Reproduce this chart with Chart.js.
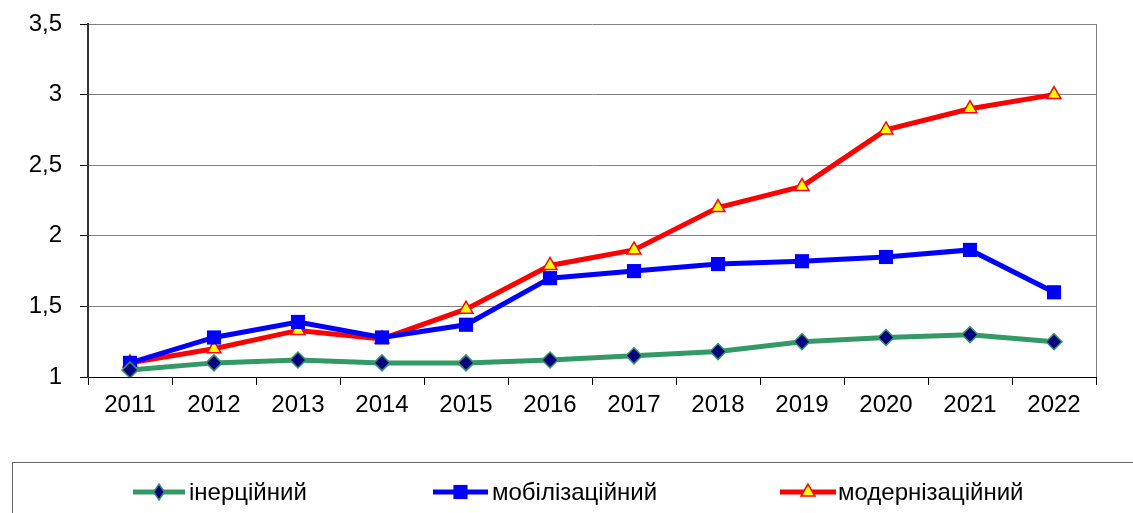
<!DOCTYPE html>
<html>
<head>
<meta charset="utf-8">
<script src="https://cdn.jsdelivr.net/npm/chart.js@4"></script>
<style>
  html, body { margin: 0; padding: 0; background: #fff; }
  #wrap { width: 1133px; height: 513px; position: relative; }
</style>
</head>
<body>
<div id="wrap"><canvas id="myChart" width="1133" height="513"></canvas></div>
<script>
// роки
var years = ['2011', '2012', '2013', '2014', '2015', '2016', '2017', '2018', '2019', '2020', '2021', '2022'];
// сценарії
var inertial = [1.05, 1.10, 1.12, 1.10, 1.10, 1.12, 1.15, 1.18, 1.25, 1.28, 1.30, 1.25];
var mobilization = [1.10, 1.28, 1.39, 1.28, 1.37, 1.70, 1.75, 1.80, 1.82, 1.85, 1.90, 1.60];
var modernization = [1.10, 1.20, 1.33, 1.27, 1.48, 1.79, 1.90, 2.20, 2.35, 2.75, 2.90, 3.00];
var yTicks = [1, 1.5, 2, 2.5, 3, 3.5];

var FONT = { family: 'Arial, "Liberation Sans", sans-serif', size: 24 };

var data = {
  labels: years,
  datasets: [
    {
      label: 'інерційний',
      data: inertial,
      borderColor: '#339966',
      borderWidth: 5,
      pointStyle: 'rectRot',
      pointRadius: 8,
      pointBackgroundColor: '#000080',
      pointBorderColor: '#339966',
      pointBorderWidth: 1.5,
    },
    {
      label: 'мобілізаційний',
      data: mobilization,
      borderColor: '#0000FF',
      borderWidth: 5,
      pointStyle: 'rect',
      pointRadius: 10,
      pointBackgroundColor: '#0000FF',
      pointBorderColor: '#0000FF',
      pointBorderWidth: 0,
    },
    {
      label: 'модернізаційний',
      data: modernization,
      borderColor: '#FF0000',
      borderWidth: 5,
      pointStyle: 'triangle',
      pointRadius: 8,
      pointBackgroundColor: '#FFFF00',
      pointBorderColor: '#FF0000',
      pointBorderWidth: 1.5,
    },
  ],
};

// рамка справа та легенда внизу
var decor = {
  id: 'decor',
  beforeDatasetsDraw: function (chart) {
    var a = chart.chartArea, ctx = chart.ctx;
    ctx.save();
    ctx.strokeStyle = '#808080';
    ctx.lineWidth = 1;
    ctx.beginPath();
    ctx.moveTo(Math.round(a.right) + 0.5, a.top);
    ctx.lineTo(Math.round(a.right) + 0.5, a.bottom);
    ctx.stroke();
    ctx.restore();
  },
  afterDraw: function (chart) {
    var ctx = chart.ctx;
    ctx.save();
    ctx.strokeStyle = '#666';
    ctx.lineWidth = 1;
    ctx.strokeRect(12.5, 462.5, 1140, 60);
    var items = [
      { x: 133, w: 52, tx: 189, pw: 11 },
      { x: 433, w: 55, tx: 492, pw: 0 },
      { x: 780, w: 56, tx: 838, pw: 0 },
    ];
    var y = 492;
    chart.data.datasets.forEach(function (ds, i) {
      var it = items[i];
      ctx.strokeStyle = ds.borderColor;
      ctx.lineWidth = 5;
      ctx.beginPath();
      ctx.moveTo(it.x, y);
      ctx.lineTo(it.x + it.w, y);
      ctx.stroke();
      ctx.fillStyle = ds.pointBackgroundColor;
      ctx.strokeStyle = ds.pointBorderColor;
      ctx.lineWidth = ds.pointBorderWidth;
      Chart.helpers.drawPointLegend(ctx, {
        pointStyle: ds.pointStyle,
        radius: ds.pointRadius,
        borderWidth: ds.pointBorderWidth,
        rotation: 0,
      }, it.x + it.w / 2, y, it.pw || null);
      ctx.fillStyle = '#000';
      ctx.font = FONT.size + 'px ' + FONT.family;
      ctx.textBaseline = 'middle';
      ctx.textAlign = 'left';
      ctx.fillText(ds.label, it.tx, y + 1);
    });
    ctx.restore();
  },
};

var options = {
  responsive: false,
  animation: false,
  layout: { padding: { left: 0, top: 24, right: 37, bottom: 0 } },
  plugins: {
    legend: { display: false },
    tooltip: { enabled: false },
  },
  elements: { line: { tension: 0 } },
  scales: {
    x: {
      offset: true,
      grid: { offset: true, drawOnChartArea: false, tickLength: 8, color: '#000' },
      border: { color: '#000', width: 1 },
      ticks: { color: '#000', font: FONT, padding: 6, maxRotation: 0 },
      afterFit: function (s) { s.height = 136; },
    },
    y: {
      min: 1,
      max: 3.5,
      afterBuildTicks: function (s) { s.ticks = yTicks.map(function (v) { return { value: v }; }); },
      grid: { color: '#808080', tickLength: 8, tickColor: '#000' },
      border: { color: '#333', width: 2 },
      ticks: {
        color: '#000',
        font: FONT,
        padding: 18,
        callback: function (v) { return String(v).replace('.', ','); },
      },
      afterFit: function (s) { s.width = 88; s.paddingTop = 0; s.paddingBottom = 0; },
    },
  },
};

var ctx = document.getElementById('myChart').getContext('2d');
var myChart = new Chart(ctx, {
  type: 'line',
  data: data,
  options: options,
  plugins: [decor],
});
</script>
</body>
</html>
